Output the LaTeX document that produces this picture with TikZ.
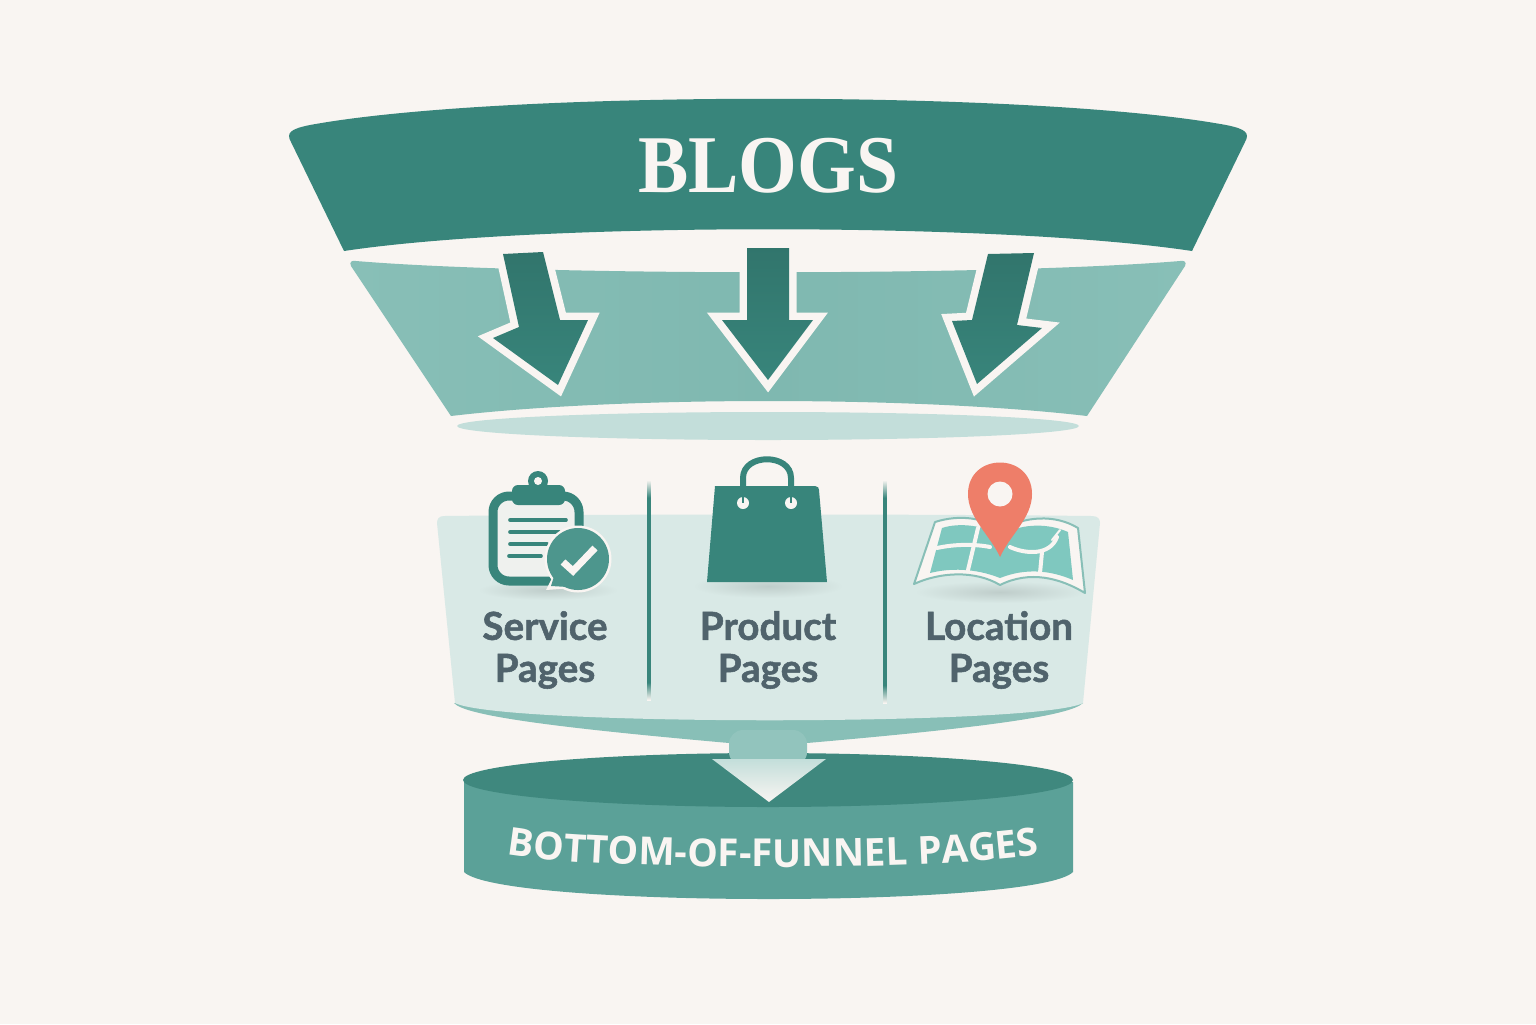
\documentclass[tikz,border=0pt]{standalone}
\usepackage{fontspec}
\setmainfont{Liberation Serif}
\setsansfont[BoldFeatures={FakeBold=1.4}]{Lato}
\newfontfamily\capsfont{Open Sans}
\usetikzlibrary{decorations.text}
\definecolor{paper}{HTML}{F9F5F2}
\definecolor{deepteal}{HTML}{38857B}
\definecolor{midteal}{HTML}{88BFB7}
\definecolor{bandteal}{HTML}{7FB8B0}
\definecolor{paleteal}{HTML}{C3DEDA}
\definecolor{panelteal}{HTML}{D9E9E6}
\definecolor{sideteal}{HTML}{5BA198}
\definecolor{lidteal}{HTML}{3F887E}
\definecolor{mapteal}{HTML}{7FC8BF}
\definecolor{slate}{HTML}{50636C}
\definecolor{coral}{HTML}{EE7E69}
\pgfdeclareverticalshading{dividerfade}{100bp}{color(0bp)=(paper); color(25bp)=(paper);
  color(29bp)=(deepteal); color(71bp)=(deepteal); color(75bp)=(paper); color(100bp)=(paper)}
\tikzset{
  halo/.style={draw=paper,line width=7.5pt,line join=miter,miter limit=10},
  downfill/.style={top color=deepteal!88!black,bottom color=deepteal},
  pagelabel/.style={font=\sffamily\bfseries\fontsize{19.3}{21}\selectfont,text=slate,align=center},
  iconline/.style={draw=deepteal,line width=1.8pt,line cap=round},
  street/.style={draw=paper,line width=2pt,line cap=round},
}
\begin{document}
\begin{tikzpicture}[x=.5pt,y=-.5pt]
\useasboundingbox (0,0) rectangle (1536,1024);
\fill[paper] (0,0) rectangle (1536,1024);
% top band
\fill[deepteal] (291,142) .. controls (286,133) and (290,129) .. (310,125)
  .. controls (500,90) and (1036,90) .. (1226,125)
  .. controls (1246,129) and (1250,133) .. (1245,142)
  -- (1192,251) .. controls (1000,222) and (536,222) .. (344,251) -- cycle;
\node[font=\bfseries\fontsize{41}{41}\selectfont,text=paper,xscale=.92,transform shape]
  (blogs) at (768,166) {BLOGS};
% second band
\shade[left color=midteal,right color=midteal,middle color=bandteal]
  (356,261) .. controls (352,260) and (349,262) .. (351,266)
  -- (451,416) .. controls (620,396) and (916,396) .. (1087,416)
  -- (1185,266) .. controls (1187,262) and (1184,260) .. (1180,261)
  .. controls (1000,276) and (536,276) .. (356,261) -- cycle;
\fill[paleteal] (768,426) ellipse (311 and 14);
% arrows into the second band
\path[halo] (503,254) -- (543,252) -- (560,320) -- (588,320) -- (558,385) -- (493,338) -- (519,327) -- cycle;
\shade[downfill] (503,254) -- (543,252) -- (560,320) -- (588,320) -- (558,385) -- (493,338) -- (519,327) -- cycle;
\path[halo] (747,248) -- (789,248) -- (789,320) -- (813,320) -- (768,380) -- (722,320) -- (747,320) -- cycle;
\shade[downfill] (747,248) -- (789,248) -- (789,320) -- (813,320) -- (768,380) -- (722,320) -- (747,320) -- cycle;
\path[halo] (988,254) -- (1034,253) -- (1017,325) -- (1042,328) -- (977,384) -- (952,321) -- (972,320) -- cycle;
\shade[downfill] (988,254) -- (1034,253) -- (1017,325) -- (1042,328) -- (977,384) -- (952,321) -- (972,320) -- cycle;
% under the panel
\fill[midteal] (454,703) .. controls (465,716) and (560,728) .. (729,743)
  -- (807,743) .. controls (980,728) and (1070,716) .. (1083,703) -- cycle;
% panel
\fill[panelteal] (444,516) .. controls (620,514) and (920,514) .. (1092,516)
  .. controls (1098,516) and (1100,519) .. (1100,523)
  -- (1083,703) .. controls (1040,726) and (500,726) .. (455,703)
  -- (437,523) .. controls (437,519) and (439,516) .. (444,516) -- cycle;
% soft shadows
\shade[inner color=black!12!panelteal,outer color=panelteal] (548,590) ellipse (70 and 10);
\shade[inner color=black!12!panelteal,outer color=panelteal] (768,586) ellipse (75 and 12);
\shade[inner color=black!12!panelteal,outer color=panelteal] (1000,592) ellipse (85 and 11);
% dividers
\shade[shading=dividerfade] (647.2,480) rectangle (650.8,700);
\shade[shading=dividerfade] (883.2,480) rectangle (886.8,703);
% clipboard
\draw[draw=deepteal,fill=paper!70!panelteal,line width=4.5pt,rounded corners=8pt] (493,496) rectangle (579,581);
\fill[deepteal] (538,481) circle (10);
\fill[deepteal,rounded corners=3pt] (512,485) rectangle (565,505);
\fill[paper] (538,481) circle (4);
\draw[iconline] (510,520) -- (566,520);
\draw[iconline] (510,532) -- (559,532);
\draw[iconline] (510,544) -- (547,544);
\draw[iconline] (509,556) -- (541,556);
\fill[paper] (578,559) circle (33.5);
\fill[paper] (546,590) -- (556,570) -- (572,588) -- cycle;
\fill[sideteal!60!deepteal] (578,559) circle (31);
\fill[sideteal!60!deepteal] (551,586) -- (556,570) -- (568,587) -- cycle;
\draw[draw=paper,line width=3.5pt,line join=miter] (563,562) -- (573,571) -- (595,548);
% bag
\draw[draw=deepteal,line width=3pt] (743,488) -- (743,478) .. controls (743,453) and (791,453) .. (791,478) -- (791,488);
\fill[deepteal] (715,486) -- (815,486) .. controls (818,486) and (819,488) .. (819,490)
  -- (827,582) -- (707,582) -- cycle;
\fill[paper] (743,503) circle (6);
\fill[paper] (791,503) circle (6);
\draw[draw=deepteal,line width=1pt] (743,497) -- (743,503);
\draw[draw=deepteal,line width=1pt] (791,497) -- (791,503);
% map
\draw[draw=midteal,fill=paper,line width=1pt,line join=round] (935,522)
  .. controls (960,514) and (985,518) .. (1000,530)
  .. controls (1025,516) and (1055,514) .. (1078,528)
  -- (1085,593) .. controls (1060,578) and (1030,570) .. (1000,585)
  .. controls (975,570) and (940,572) .. (914,584) -- cycle;
\fill[mapteal] (942,528) .. controls (960,522) and (985,526) .. (1000,535)
  .. controls (1025,522) and (1050,524) .. (1068,532)
  -- (1073,580) .. controls (1050,570) and (1025,568) .. (1000,578)
  .. controls (975,568) and (950,568) .. (930,573) -- cycle;
\draw[street] (978,528) -- (968,570);
\draw[street] (937,548) .. controls (955,544) and (975,544) .. (990,547);
\draw[street] (1010,547) .. controls (1025,554) and (1050,556) .. (1057,537);
\draw[street] (1042,552) -- (1040,573);
\draw[street,line width=1pt] (1052,540) -- (1060,530);
% pin
\fill[coral] (1000,557) .. controls (990,535) and (968,518) .. (968,494)
  .. controls (968,452) and (1032,452) .. (1032,494)
  .. controls (1032,518) and (1010,535) .. (1000,557) -- cycle;
\fill[paper] (1000,494) circle (12.5);
% labels
\node[pagelabel] (service) at (545,650) {Service\\Pages};
\node[pagelabel] (product) at (768,650) {Product\\Pages};
\node[pagelabel] (location) at (999,650) {Location\\Pages};
% cylinder
\fill[sideteal] (464,782) -- (464,872) .. controls (500,908) and (1037,908) .. (1073,872) -- (1073,782) -- cycle;
\fill[lidteal] (768,780) ellipse (305 and 27);
% neck and last arrow
\fill[midteal!92!white,rounded corners=7pt] (729,766) -- (729,730) -- (807,730) -- (807,766) -- cycle;
\shade[top color=paleteal,bottom color=paper] (712,759) -- (826,759) -- (769,802) -- cycle;
% curved caption
\path[decorate,decoration={text along path,text align=center,
  text={|\capsfont\bfseries\fontsize{19.3}{19}\selectfont\color{paper}|BOTTOM-OF-FUNNEL PAGES}}]
  (509,855) .. controls (600,871) and (946,871) .. (1037,855);
\end{tikzpicture}
\end{document}
